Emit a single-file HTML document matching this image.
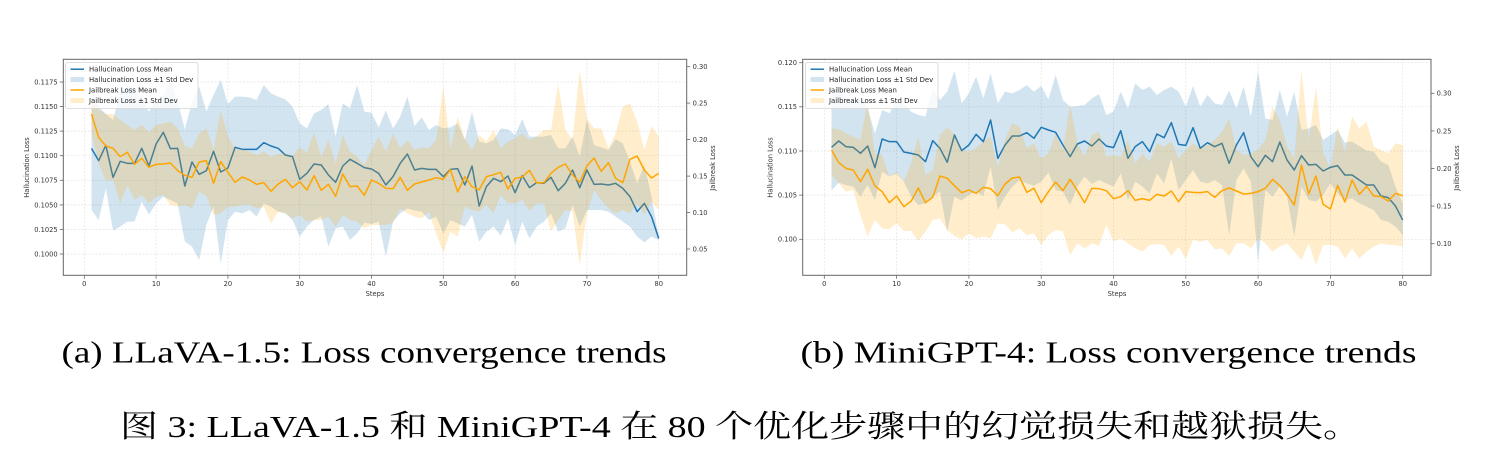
<!DOCTYPE html>
<html><head><meta charset="utf-8"><style>
html,body{margin:0;padding:0;background:#fff;}
svg{display:block;}
.tk{font-family:"DejaVu Sans","Liberation Sans",sans-serif;font-size:6.7px;fill:#333;}
.lg{font-family:"DejaVu Sans","Liberation Sans",sans-serif;font-size:6.9px;fill:#222;}
.cap{font-family:"Liberation Serif","Noto Serif CJK SC",serif;font-size:31px;fill:#000;}
.grid line{stroke:#e2e2e2;stroke-width:0.7;stroke-dasharray:2 1.6;}
.ticks line{stroke:#666;stroke-width:0.8;}
.ln{fill:none;stroke-width:1.5;vector-effect:non-scaling-stroke;stroke-linejoin:round;}
</style></head><body>
<svg width="1506" height="474" viewBox="0 0 1506 474" xmlns="http://www.w3.org/2000/svg">
<rect width="1506" height="474" fill="#fff"/>

<!-- ================= CHART A ================= -->
<g class="grid">
<line x1="84.3" y1="59.3" x2="84.3" y2="275.3"/><line x1="156.1" y1="59.3" x2="156.1" y2="275.3"/><line x1="227.9" y1="59.3" x2="227.9" y2="275.3"/><line x1="299.7" y1="59.3" x2="299.7" y2="275.3"/><line x1="371.5" y1="59.3" x2="371.5" y2="275.3"/><line x1="443.3" y1="59.3" x2="443.3" y2="275.3"/><line x1="515.1" y1="59.3" x2="515.1" y2="275.3"/><line x1="586.9" y1="59.3" x2="586.9" y2="275.3"/><line x1="658.7" y1="59.3" x2="658.7" y2="275.3"/>
<line x1="63.3" y1="254" x2="686.7" y2="254"/><line x1="63.3" y1="229.4" x2="686.7" y2="229.4"/><line x1="63.3" y1="204.9" x2="686.7" y2="204.9"/><line x1="63.3" y1="180.3" x2="686.7" y2="180.3"/><line x1="63.3" y1="155.7" x2="686.7" y2="155.7"/><line x1="63.3" y1="131.1" x2="686.7" y2="131.1"/><line x1="63.3" y1="106.6" x2="686.7" y2="106.6"/><line x1="63.3" y1="82" x2="686.7" y2="82"/>
</g>
<g transform="translate(84.3 40) scale(7.18 0.33333)">
<path fill="#1f77b4" fill-opacity="0.2" d="M1,140 L2,200 3,222 4,240 5,160 6,140 7,150 8,175 9,215 10,180 11,165 12,120 13,185 14,268 15,185 16,140 17,215 18,165 19,120 20,192 21,170 22,170 23,172 24,180 25,135 26,160 27,170 28,178 29,200 30,250 31,265 32,220 33,210 34,192 35,290 36,190 37,205 38,135 39,215 40,218 41,262 42,212 43,265 44,230 45,170 46,258 47,232 48,270 49,255 50,265 51,262 52,250 53,300 54,215 55,305 56,310 57,300 58,265 59,268 60,285 61,237 62,290 63,290 64,290 65,285 66,325 67,325 68,290 69,350 70,240 71,315 72,322 73,330 74,298 75,310 76,365 77,430 78,375 79,470 80,590 L80,600 79,590 78,607 77,590 76,560 75,545 74,530 73,515 72,510 71,510 70,510 69,560 68,495 67,565 66,575 65,520 64,545 63,560 62,595 61,545 60,615 59,535 58,587 57,560 56,575 55,605 54,525 53,560 52,550 51,540 50,580 49,530 48,540 47,515 46,512 45,505 44,520 43,545 42,650 41,545 40,552 39,548 38,580 37,600 36,560 35,565 34,620 33,530 32,540 31,560 30,590 29,540 28,520 27,515 26,500 25,490 24,530 23,510 22,520 21,515 20,540 19,670 18,500 17,555 16,660 15,620 14,605 13,490 12,480 11,470 10,490 9,523 8,485 7,545 6,545 5,560 4,572 3,445 2,540 1,510 Z"/>
<polyline class="ln" stroke="#1f77b4" points="1,325 2,362 3,316 4,412 5,364 6,370 7,370 8,325 9,378 10,312 11,277 12,326 13,325 14,438 15,366 16,403 17,392 18,334 19,396 20,384 21,322 22,328 23,328 24,328 25,308 26,318 27,325 28,345 29,350 30,418 31,400 32,372 33,375 34,405 35,427 36,378 37,358 38,370 39,383 40,387 41,400 42,435 43,410 44,370 45,342 46,390 47,385 48,388 49,388 50,410 51,388 52,386 53,435 54,378 55,498 56,440 57,415 58,425 59,408 60,458 61,407 62,443 63,428 64,430 65,412 66,452 67,430 68,390 69,443 70,390 71,433 72,432 73,435 74,430 75,445 76,470 77,515 78,490 79,530 80,595"/>
<path fill="#ffa500" fill-opacity="0.2" d="M1,175 L2,210 3,222 4,222 5,240 6,255 7,270 8,255 9,278 10,255 11,250 12,245 13,265 14,318 15,325 16,280 17,265 18,330 19,210 20,290 21,325 22,328 23,335 24,345 25,335 26,350 27,342 28,340 29,348 30,322 31,338 32,278 33,350 34,300 35,370 36,285 37,335 38,350 39,375 40,330 41,290 42,335 43,280 44,325 45,300 46,330 47,322 48,325 49,300 50,140 51,325 52,230 53,295 54,330 55,285 56,305 57,270 58,325 59,305 60,295 61,280 62,300 63,290 64,270 65,270 66,130 67,270 68,300 69,90 70,235 71,265 72,265 73,325 74,280 75,200 76,190 77,245 78,330 79,258 80,290 L80,510 79,485 78,525 77,490 76,520 75,510 74,520 73,505 72,480 71,450 70,520 69,675 68,515 67,510 66,540 65,575 64,490 63,490 62,512 61,480 60,490 59,490 58,465 57,520 56,495 55,515 54,510 53,500 52,590 51,575 50,638 49,580 48,515 47,535 46,530 45,520 44,505 43,548 42,555 41,555 40,555 39,565 38,545 37,540 36,525 35,560 34,530 33,540 32,540 31,545 30,525 29,535 28,520 27,515 26,550 25,500 24,505 23,495 22,495 21,500 20,500 19,520 18,525 17,468 16,455 15,505 14,495 13,500 12,495 11,465 10,470 9,490 8,465 7,480 6,436 5,490 4,420 3,422 2,370 1,280 Z"/>
<polyline class="ln" stroke="#ffa500" points="1,222 2,292 3,318 4,325 5,350 6,337 7,373 8,355 9,382 10,373 11,372 12,369 13,392 14,406 15,412 16,366 17,362 18,430 19,365 20,397 21,427 22,411 23,420 24,433 25,428 26,454 27,432 28,418 29,443 30,425 31,450 32,407 33,451 34,433 35,469 36,402 37,440 38,438 39,466 40,420 41,430 42,445 43,446 44,412 45,451 46,432 47,426 48,420 49,413 50,418 51,389 52,456 53,410 54,440 55,449 56,410 57,404 58,397 59,447 60,415 61,411 62,391 63,429 64,428 65,400 66,382 67,372 68,405 69,427 70,378 71,354 72,394 73,368 74,415 75,428 76,358 77,348 78,390 79,414 80,400"/>
</g>
<rect x="63.3" y="59.3" width="623.4" height="216" fill="none" stroke="#666" stroke-width="1"/>
<g class="ticks">
<line x1="84.3" y1="275.3" x2="84.3" y2="278.8"/><line x1="156.1" y1="275.3" x2="156.1" y2="278.8"/><line x1="227.9" y1="275.3" x2="227.9" y2="278.8"/><line x1="299.7" y1="275.3" x2="299.7" y2="278.8"/><line x1="371.5" y1="275.3" x2="371.5" y2="278.8"/><line x1="443.3" y1="275.3" x2="443.3" y2="278.8"/><line x1="515.1" y1="275.3" x2="515.1" y2="278.8"/><line x1="586.9" y1="275.3" x2="586.9" y2="278.8"/><line x1="658.7" y1="275.3" x2="658.7" y2="278.8"/>
<line x1="59.8" y1="254" x2="63.3" y2="254"/><line x1="59.8" y1="229.4" x2="63.3" y2="229.4"/><line x1="59.8" y1="204.9" x2="63.3" y2="204.9"/><line x1="59.8" y1="180.3" x2="63.3" y2="180.3"/><line x1="59.8" y1="155.7" x2="63.3" y2="155.7"/><line x1="59.8" y1="131.1" x2="63.3" y2="131.1"/><line x1="59.8" y1="106.6" x2="63.3" y2="106.6"/><line x1="59.8" y1="82" x2="63.3" y2="82"/>
<line x1="686.7" y1="66.7" x2="690.2" y2="66.7"/><line x1="686.7" y1="103.1" x2="690.2" y2="103.1"/><line x1="686.7" y1="139.6" x2="690.2" y2="139.6"/><line x1="686.7" y1="176.1" x2="690.2" y2="176.1"/><line x1="686.7" y1="212.6" x2="690.2" y2="212.6"/><line x1="686.7" y1="249" x2="690.2" y2="249"/>
</g>
<g class="tk" text-anchor="middle">
<text x="84.3" y="285.8">0</text><text x="156.1" y="285.8">10</text><text x="227.9" y="285.8">20</text><text x="299.7" y="285.8">30</text><text x="371.5" y="285.8">40</text><text x="443.3" y="285.8">50</text><text x="515.1" y="285.8">60</text><text x="586.9" y="285.8">70</text><text x="658.7" y="285.8">80</text>
<text x="375" y="295.8">Steps</text>
</g>
<g class="tk" text-anchor="end">
<text x="57.6" y="256.4">0.1000</text><text x="57.6" y="231.8">0.1025</text><text x="57.6" y="207.3">0.1050</text><text x="57.6" y="182.7">0.1075</text><text x="57.6" y="158.1">0.1100</text><text x="57.6" y="133.5">0.1125</text><text x="57.6" y="109">0.1150</text><text x="57.6" y="84.4">0.1175</text>
</g>
<g class="tk">
<text x="692.6" y="69.1">0.30</text><text x="692.6" y="105.5">0.25</text><text x="692.6" y="142">0.20</text><text x="692.6" y="178.5">0.15</text><text x="692.6" y="215">0.10</text><text x="692.6" y="251.4">0.05</text>
</g>
<text class="tk" text-anchor="middle" transform="translate(29.1 167.5) rotate(-90)">Hallucination Loss</text>
<text class="tk" text-anchor="middle" transform="translate(715.1 168) rotate(-90)">Jailbreak Loss</text>
<g>
<rect x="65.5" y="62.5" width="132.5" height="46" rx="2" fill="#fff" fill-opacity="0.8" stroke="#d4d4d4" stroke-width="0.8"/>
<line x1="70.5" y1="69.2" x2="84" y2="69.2" stroke="#1f77b4" stroke-width="1.5"/>
<rect x="70.5" y="77" width="13.5" height="5" fill="#1f77b4" fill-opacity="0.2"/>
<line x1="70.5" y1="90" x2="84" y2="90" stroke="#ffa500" stroke-width="1.5"/>
<rect x="70.5" y="98" width="13.5" height="5" fill="#ffa500" fill-opacity="0.2"/>
<text class="lg" x="89" y="71.6">Hallucination Loss Mean</text>
<text class="lg" x="89" y="81.9">Hallucination Loss ±1 Std Dev</text>
<text class="lg" x="89" y="92.5">Jailbreak Loss Mean</text>
<text class="lg" x="89" y="103.1">Jailbreak Loss ±1 Std Dev</text>
</g>

<!-- ================= CHART B ================= -->
<g class="grid">
<line x1="824.3" y1="59.3" x2="824.3" y2="275.3"/><line x1="896.6" y1="59.3" x2="896.6" y2="275.3"/><line x1="968.9" y1="59.3" x2="968.9" y2="275.3"/><line x1="1041.2" y1="59.3" x2="1041.2" y2="275.3"/><line x1="1113.5" y1="59.3" x2="1113.5" y2="275.3"/><line x1="1185.8" y1="59.3" x2="1185.8" y2="275.3"/><line x1="1258.1" y1="59.3" x2="1258.1" y2="275.3"/><line x1="1330.4" y1="59.3" x2="1330.4" y2="275.3"/><line x1="1402.7" y1="59.3" x2="1402.7" y2="275.3"/>
<line x1="802.7" y1="62.7" x2="1431" y2="62.7"/><line x1="802.7" y1="106.8" x2="1431" y2="106.8"/><line x1="802.7" y1="151" x2="1431" y2="151"/><line x1="802.7" y1="195.1" x2="1431" y2="195.1"/><line x1="802.7" y1="239.3" x2="1431" y2="239.3"/>
</g>
<g transform="translate(824.3 40) scale(7.23 0.33333)">
<path fill="#1f77b4" fill-opacity="0.2" d="M1,160 L2,150 3,175 4,190 5,175 6,205 7,280 8,210 9,220 10,180 11,190 12,215 13,225 14,230 15,145 16,180 17,155 18,92 19,190 20,160 21,110 22,175 23,100 24,190 25,155 26,160 27,150 28,135 29,155 30,138 31,178 32,105 33,180 34,200 35,198 36,195 37,175 38,162 39,225 40,215 41,155 42,205 43,130 44,150 45,140 46,165 47,150 48,140 49,155 50,200 51,138 52,200 53,165 54,190 55,195 56,152 57,205 58,140 59,230 60,95 61,235 62,240 63,150 64,230 65,155 66,270 67,265 68,255 69,300 70,285 71,270 72,308 73,305 74,318 75,332 76,335 77,365 78,375 79,440 80,490 L80,585 79,560 78,545 77,540 76,510 75,500 74,490 73,475 72,480 71,460 70,430 69,465 68,485 67,480 66,440 65,590 64,470 63,440 62,470 61,450 60,665 59,425 58,385 57,420 56,585 55,435 54,420 53,430 52,425 51,390 50,420 49,450 48,355 47,430 46,400 45,460 44,440 43,425 42,480 41,400 40,440 39,430 38,420 37,432 36,410 35,440 34,495 33,455 32,450 31,398 30,425 29,437 28,430 27,420 26,440 25,470 24,510 23,380 22,468 21,455 20,465 19,482 18,470 17,575 16,455 15,470 14,490 13,495 12,470 11,425 10,400 9,410 8,395 7,480 6,435 5,470 4,440 3,435 2,428 1,452 Z"/>
<polyline class="ln" stroke="#1f77b4" points="1,322 2,303 3,320 4,322 5,340 6,318 7,383 8,297 9,305 10,305 11,336 12,340 13,345 14,365 15,302 16,325 17,367 18,285 19,332 20,315 21,283 22,305 23,240 24,355 25,315 26,288 27,288 28,278 29,295 30,262 31,270 32,277 33,315 34,350 35,312 36,303 37,318 38,297 39,318 40,323 41,272 42,355 43,320 44,305 45,335 46,282 47,293 48,248 49,313 50,316 51,263 52,325 53,308 54,320 55,310 56,370 57,315 58,278 59,350 60,380 61,346 62,365 63,306 64,360 65,390 66,347 67,375 68,373 69,393 70,382 71,377 72,405 73,405 74,420 75,435 76,435 77,468 78,473 79,498 80,540"/>
<path fill="#ffa500" fill-opacity="0.2" d="M1,265 L2,268 3,280 4,290 5,300 6,185 7,340 8,345 9,410 10,395 11,425 12,370 13,290 14,405 15,390 16,285 17,262 18,283 19,330 20,335 21,325 22,305 23,290 24,380 25,300 26,250 27,260 28,325 29,310 30,355 31,340 32,282 33,330 34,193 35,310 36,350 37,285 38,275 39,350 40,345 41,350 42,300 43,370 44,340 45,365 46,310 47,320 48,305 49,355 50,330 51,310 52,325 53,315 54,300 55,275 56,235 57,330 58,345 59,340 60,330 61,300 62,200 63,240 64,320 65,355 66,90 67,300 68,140 69,340 70,385 71,260 72,335 73,230 74,265 75,245 76,320 77,330 78,340 79,310 80,315 L80,620 79,615 78,615 77,610 76,620 75,635 74,655 73,625 72,655 71,620 70,615 69,615 68,675 67,610 66,660 65,635 64,610 63,620 62,635 61,610 60,595 59,625 58,610 57,610 56,648 55,625 54,628 53,600 52,605 51,600 50,657 49,620 48,648 47,615 46,612 45,615 44,635 43,625 42,610 41,595 40,605 39,555 38,618 37,610 36,625 35,610 34,645 33,575 32,570 31,585 30,615 29,580 28,585 27,565 26,577 25,553 24,550 23,595 22,590 21,595 20,580 19,598 18,588 17,570 16,535 15,540 14,575 13,603 12,573 11,573 10,550 9,568 8,565 7,540 6,590 5,525 4,450 3,455 2,430 1,405 Z"/>
<polyline class="ln" stroke="#ffa500" points="1,330 2,368 3,385 4,390 5,425 6,388 7,438 8,455 9,488 10,468 11,500 12,484 13,444 14,488 15,472 16,408 17,415 18,437 19,458 20,450 21,460 22,442 23,446 24,467 25,432 26,414 27,411 28,457 29,445 30,488 31,455 32,426 33,452 34,418 35,452 36,488 37,445 38,446 39,452 40,476 41,470 42,452 43,481 44,476 45,481 46,463 47,468 48,453 49,485 50,455 51,457 52,458 53,455 54,472 55,452 56,444 57,453 58,462 59,460 60,455 61,445 62,418 63,437 64,463 65,495 66,375 67,462 68,408 69,493 70,507 71,436 72,486 73,420 74,463 75,439 76,468 77,470 78,483 79,460 80,467"/>
</g>
<rect x="802.7" y="59.3" width="628.3" height="216" fill="none" stroke="#666" stroke-width="1"/>
<g class="ticks">
<line x1="824.3" y1="275.3" x2="824.3" y2="278.8"/><line x1="896.6" y1="275.3" x2="896.6" y2="278.8"/><line x1="968.9" y1="275.3" x2="968.9" y2="278.8"/><line x1="1041.2" y1="275.3" x2="1041.2" y2="278.8"/><line x1="1113.5" y1="275.3" x2="1113.5" y2="278.8"/><line x1="1185.8" y1="275.3" x2="1185.8" y2="278.8"/><line x1="1258.1" y1="275.3" x2="1258.1" y2="278.8"/><line x1="1330.4" y1="275.3" x2="1330.4" y2="278.8"/><line x1="1402.7" y1="275.3" x2="1402.7" y2="278.8"/>
<line x1="799.2" y1="62.7" x2="802.7" y2="62.7"/><line x1="799.2" y1="106.8" x2="802.7" y2="106.8"/><line x1="799.2" y1="151" x2="802.7" y2="151"/><line x1="799.2" y1="195.1" x2="802.7" y2="195.1"/><line x1="799.2" y1="239.3" x2="802.7" y2="239.3"/>
<line x1="1431" y1="93.3" x2="1434.5" y2="93.3"/><line x1="1431" y1="130.9" x2="1434.5" y2="130.9"/><line x1="1431" y1="168.5" x2="1434.5" y2="168.5"/><line x1="1431" y1="206.1" x2="1434.5" y2="206.1"/><line x1="1431" y1="243.7" x2="1434.5" y2="243.7"/>
</g>
<g class="tk" text-anchor="middle">
<text x="824.3" y="285.8">0</text><text x="896.6" y="285.8">10</text><text x="968.9" y="285.8">20</text><text x="1041.2" y="285.8">30</text><text x="1113.5" y="285.8">40</text><text x="1185.8" y="285.8">50</text><text x="1258.1" y="285.8">60</text><text x="1330.4" y="285.8">70</text><text x="1402.7" y="285.8">80</text>
<text x="1117" y="295.8">Steps</text>
</g>
<g class="tk" text-anchor="end">
<text x="797" y="65.1">0.120</text><text x="797" y="109.2">0.115</text><text x="797" y="153.4">0.110</text><text x="797" y="197.5">0.105</text><text x="797" y="241.7">0.100</text>
</g>
<g class="tk">
<text x="1436.6" y="95.7">0.30</text><text x="1436.6" y="133.3">0.25</text><text x="1436.6" y="170.9">0.20</text><text x="1436.6" y="208.5">0.15</text><text x="1436.6" y="246.1">0.10</text>
</g>
<text class="tk" text-anchor="middle" transform="translate(772.4 167.5) rotate(-90)">Hallucination Loss</text>
<text class="tk" text-anchor="middle" transform="translate(1459.1 168) rotate(-90)">Jailbreak Loss</text>
<g transform="translate(740 0)">
<rect x="65.5" y="62.5" width="132.5" height="46" rx="2" fill="#fff" fill-opacity="0.8" stroke="#d4d4d4" stroke-width="0.8"/>
<line x1="70.5" y1="69.2" x2="84" y2="69.2" stroke="#1f77b4" stroke-width="1.5"/>
<rect x="70.5" y="77" width="13.5" height="5" fill="#1f77b4" fill-opacity="0.2"/>
<line x1="70.5" y1="90" x2="84" y2="90" stroke="#ffa500" stroke-width="1.5"/>
<rect x="70.5" y="98" width="13.5" height="5" fill="#ffa500" fill-opacity="0.2"/>
<text class="lg" x="89" y="71.6">Hallucination Loss Mean</text>
<text class="lg" x="89" y="81.9">Hallucination Loss ±1 Std Dev</text>
<text class="lg" x="89" y="92.5">Jailbreak Loss Mean</text>
<text class="lg" x="89" y="103.1">Jailbreak Loss ±1 Std Dev</text>
</g>

<!-- ================= CAPTIONS ================= -->
<text class="cap" x="61.5" y="362.5" textLength="605" lengthAdjust="spacingAndGlyphs">(a) LLaVA-1.5: Loss convergence trends</text>
<text class="cap" x="800.5" y="362.5" textLength="616" lengthAdjust="spacingAndGlyphs">(b) MiniGPT-4: Loss convergence trends</text>
<text class="cap" x="120" y="437" textLength="1241" lengthAdjust="spacingAndGlyphs">图 3: LLaVA-1.5 和 MiniGPT-4 在 80 个优化步骤中的幻觉损失和越狱损失。</text>
</svg>
</body></html>
